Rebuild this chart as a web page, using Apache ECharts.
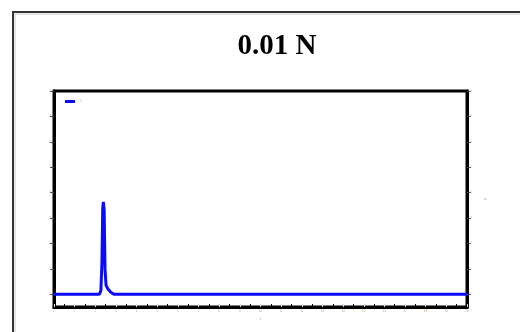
<!DOCTYPE html>
<html>
<head>
<meta charset="utf-8">
<script src="https://cdn.jsdelivr.net/npm/echarts@6/dist/echarts.min.js"></script>
<style>
  html, body { margin: 0; padding: 0; background: #fff; }
  #chart { width: 520px; height: 332px; }
</style>
</head>
<body>
<div id="chart"></div>
<script>
// values
const titleText = '0.01 N'
const xPos = [0, 2.2, 2.27, 2.32, 2.36, 2.39, 2.43, 2.47, 2.52, 2.62, 2.75, 2.9, 20]
const yVal = [0, 0, 0.15, 1.2, 3.4, 3.64, 3.3, 1.0, 0.35, 0.2, 0.08, 0, 0]
const xTicks = [0, 1, 2, 3, 4, 5, 6, 7, 8, 9, 10, 11, 12, 13, 14, 15, 16, 17, 18, 19, 20]
const yTicks = [0, 1, 2, 3, 4, 5, 6, 7, 8]

const myChart = echarts.init(document.getElementById('chart'))

const tinyLabel = {
  fontSize: 3,
  color: '#c9a27e',
  margin: 3
}

const yAxisCommon = {
  type: 'value',
  min: -0.5,
  max: 8,
  splitLine: { show: false },
  axisLine: { show: true, lineStyle: { color: '#000', width: 3 } },
  axisTick: {
    show: true,
    length: 4,
    customValues: yTicks,
    lineStyle: { color: '#444', width: 1 }
  },
  minorTick: { show: false },
  axisLabel: Object.assign({ customValues: yTicks }, tinyLabel)
}

const option = {
  animation: false,
  title: {
    text: titleText,
    left: 272,
    top: 27,
    textAlign: 'center',
    textStyle: {
      fontFamily: 'Liberation Serif',
      fontWeight: 'bold',
      fontSize: 29,
      color: '#000'
    }
  },
  legend: {
    left: 60,
    top: 95,
    icon: 'rect',
    itemWidth: 10,
    itemHeight: 3,
    itemGap: 2,
    textStyle: { fontSize: 3, color: '#ccc' },
    data: ['N']
  },
  graphic: [
    {
      // outer frame
      type: 'rect',
      shape: { x: 13, y: 12, width: 530, height: 340 },
      style: { fill: 'none', stroke: '#333', lineWidth: 2 },
      z: -1
    },
    {
      type: 'rect',
      shape: { x: 15, y: 14, width: 530, height: 340 },
      style: { fill: 'none', stroke: '#ccc', lineWidth: 1 },
      z: -1
    }
  ],
  grid: {
    left: 54,
    top: 91,
    right: 53,
    bottom: 25,
    show: true,
    borderColor: '#000',
    borderWidth: 3,
    backgroundColor: '#fff'
  },
  xAxis: {
    type: 'value',
    min: 0,
    max: 20,
    interval: 1,
    name: 'x',
    nameLocation: 'middle',
    nameGap: 10,
    nameTextStyle: { fontSize: 3, color: '#9aa6d0' },
    splitLine: { show: false },
    axisLine: { show: true, onZero: false, lineStyle: { color: '#000', width: 3 } },
    axisTick: { show: true, inside: true, length: 3, lineStyle: { color: '#ddd', width: 1 } },
    minorTick: { show: true, splitNumber: 2, length: 3, lineStyle: { color: '#000', width: 1 } },
    axisLabel: tinyLabel
  },
  yAxis: [
    Object.assign({}, yAxisCommon, { position: 'left' }),
    Object.assign({}, yAxisCommon, {
      position: 'right',
      name: 'y',
      nameLocation: 'middle',
      nameGap: 11,
      nameTextStyle: { fontSize: 4, color: '#aab' },
      axisLabel: Object.assign({ customValues: yTicks }, tinyLabel, { color: '#d0a0c0' })
    })
  ],
  series: [
    {
      name: 'N',
      type: 'line',
      showSymbol: false,
      smooth: false,
      data: xPos.map((x, i) => [x, yVal[i]]),
      lineStyle: { color: '#0a0aff', width: 3 },
      itemStyle: { color: '#0a0aff' }
    }
  ]
}

myChart.setOption(option)
</script>
</body>
</html>
